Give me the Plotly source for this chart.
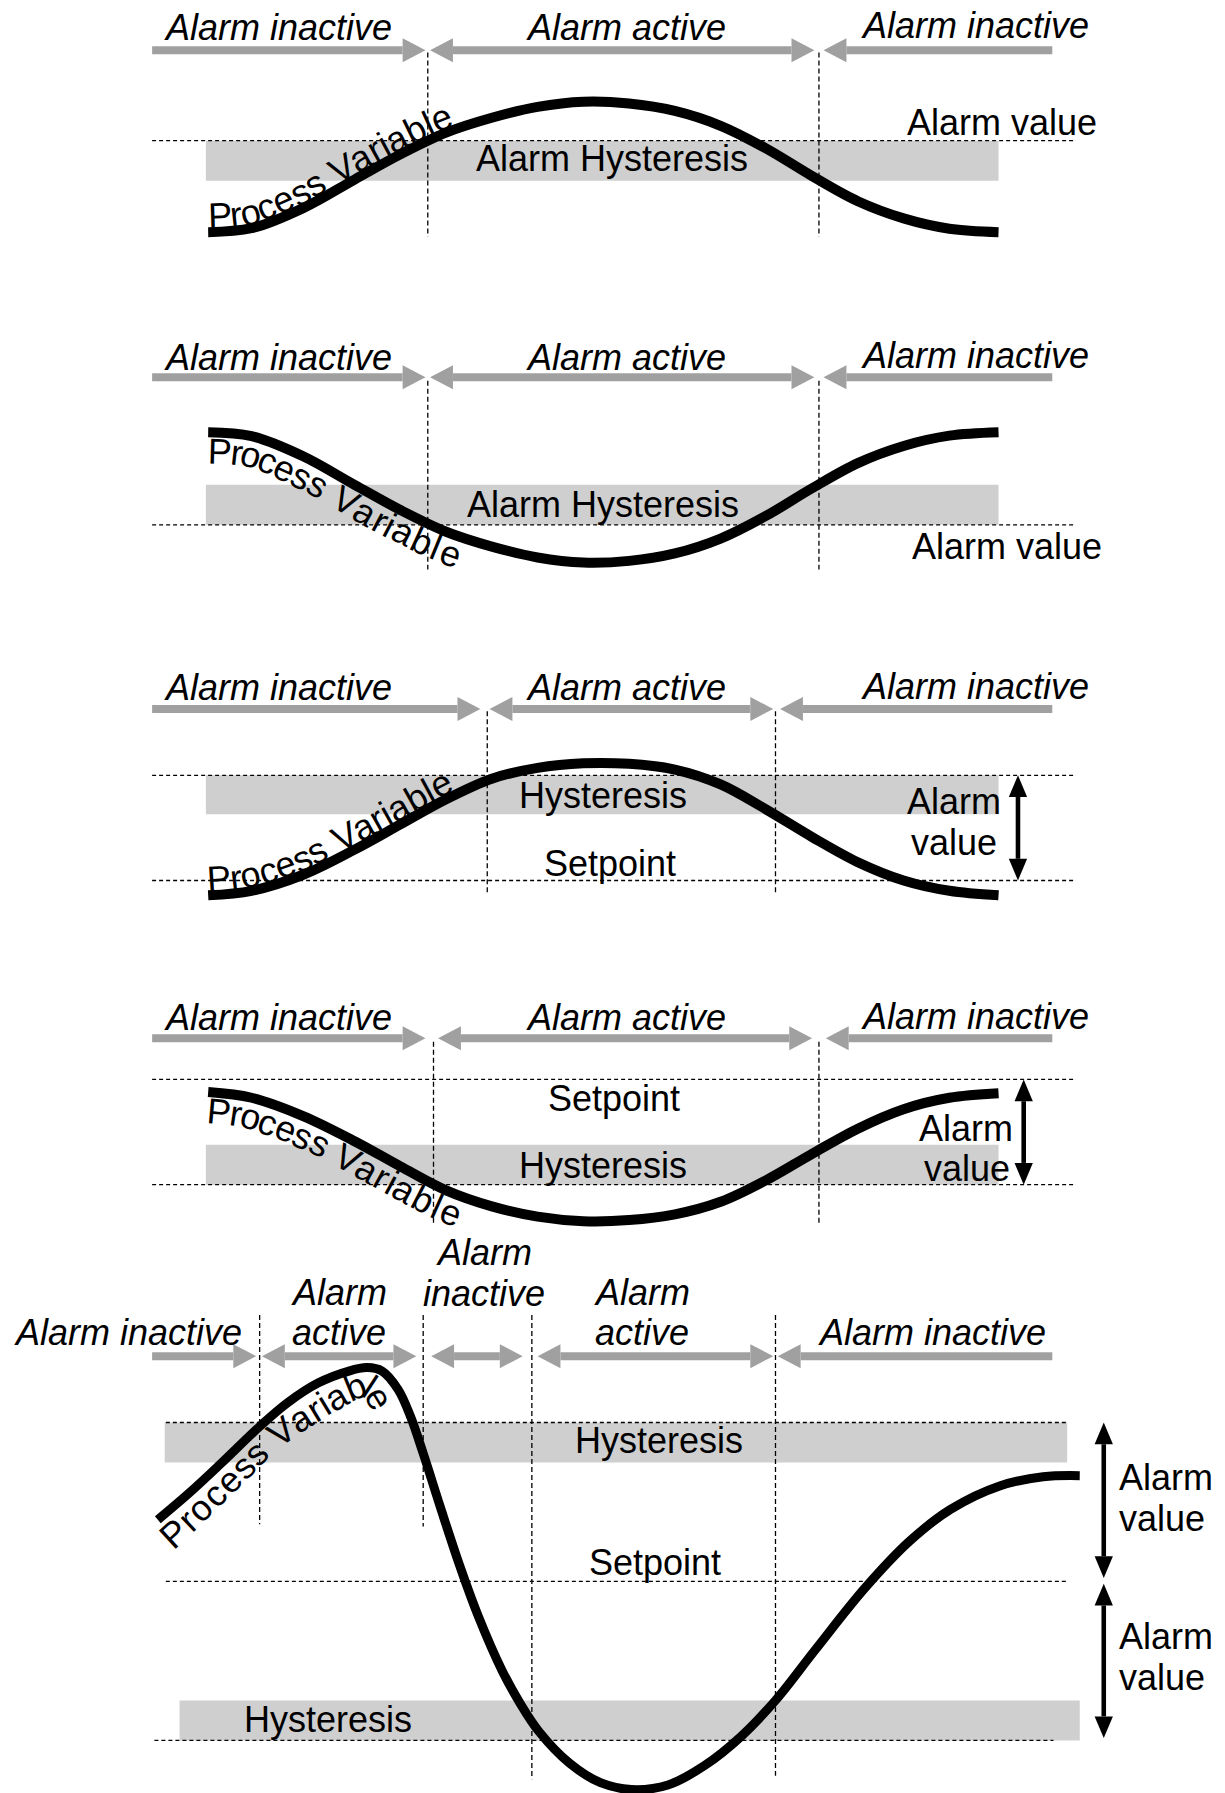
import math
import numpy as np
import plotly.graph_objects as go

# ---------------------------------------------------------------------------
# Diagram units: x = time (left -> right), y = process value drawn downward
# ---------------------------------------------------------------------------

# Process-variable curves
pv1_x = [182, 220, 265, 310, 350, 390, 430, 470, 510, 550, 590, 630, 670, 710, 750, 790, 830, 873]
pv1_y = [203, 199.6, 182, 157, 135, 116, 103, 93.5, 89, 90.5, 97, 110, 130, 154, 176, 191, 200, 203]

pv2_x = [182, 220, 265, 310, 350, 390, 430, 470, 510, 550, 590, 630, 670, 710, 750, 790, 830, 873]
pv2_y = [378, 381.4, 399, 424, 446, 465, 478, 487.5, 492, 490.5, 484, 471, 451, 427, 405, 390, 381, 378]

pv3_x = [182, 220, 265, 310, 350, 390, 430, 470, 510, 550, 590, 630, 670, 710, 750, 790, 830, 873]
pv3_y = [783, 779, 765, 743, 721, 699, 681, 671.5, 667.5, 668, 673, 686, 708, 732, 754, 770, 779, 783]

pv4_x = [182, 220, 265, 310, 350, 390, 430, 470, 510, 550, 590, 630, 670, 710, 750, 790, 830, 873]
pv4_y = [955, 960, 976, 998, 1020, 1041, 1055, 1064, 1068, 1067, 1062, 1051, 1032, 1009, 987, 970, 960, 956]

pv5_x = [138, 165, 192, 227, 251, 278, 305, 321, 334, 348, 359, 370, 385, 401.5, 417.6, 439,
         455, 471, 498, 525, 552, 584, 616, 648.5, 678, 713, 756, 795, 831, 874, 912, 944]
pv5_y = [1329, 1306, 1281, 1247.5, 1227, 1209.5, 1199, 1196, 1199, 1215, 1239, 1271, 1318,
         1368, 1412, 1461, 1490, 1514, 1542, 1559, 1565, 1561, 1544, 1518, 1487, 1442.5,
         1389, 1348, 1320, 1299.5, 1291.5, 1290.5]

# Baseline guide for the wrapped "Process Variable" label of the last panel
pv5_label_x = [140, 165, 192, 227, 251, 278, 300, 314, 324, 333, 340]
pv5_label_y = [1352, 1329, 1303, 1268, 1248, 1231, 1218, 1211, 1213, 1226, 1240]

# Levels: (y, x_start, x_end) for the dashed reference lines
ref_lines = [
    (123, 133, 940),                       # panel 1 alarm value
    (459, 133, 940),                       # panel 2 alarm value
    (678, 133, 940), (770, 133, 940),      # panel 3 alarm limit / setpoint
    (944, 133, 940), (1036, 133, 940),     # panel 4 setpoint / alarm limit
    (1244, 145, 933), (1383, 145, 934), (1522, 135, 921),   # panel 5
]

# Hysteresis bands: (x0, x1, y_top, y_bottom)
hyst_bands = [
    (180, 873, 123, 158),
    (180, 873, 424, 459),
    (180, 873, 678, 712),
    (180, 873, 1001, 1036),
    (144, 933, 1244, 1279),
    (157, 944, 1487, 1522),
]

# State-change instants: (x, y_from, y_to)
transitions = [
    (374, 46, 207), (716, 46, 207),
    (374, 333, 498), (716, 333, 498),
    (426, 622, 782), (678, 622, 782),
    (379, 911, 1072), (716, 911, 1072),
    (227, 1150, 1333), (370, 1150, 1335), (465, 1150, 1556), (678, 1150, 1553),
]

# Alarm-state arrows: row y, and (x_from, x_to, head_left, head_right)
state_rows = [44, 330, 620, 908, 1186]
state_spans = [
    [(133, 372, 0, 1), (376, 712, 1, 1), (720, 920, 1, 0)],
    [(133, 372, 0, 1), (376, 712, 1, 1), (720, 920, 1, 0)],
    [(133, 420, 0, 1), (428, 676, 1, 1), (682, 920, 1, 0)],
    [(133, 372, 0, 1), (383, 710, 1, 1), (722, 920, 1, 0)],
    [(133, 224, 0, 1), (229, 364, 1, 1), (377, 457, 1, 1), (470, 676, 1, 1), (680, 920, 1, 0)],
]

# Alarm-value span arrows (black, double headed): (x, y_from, y_to)
value_spans = [(890, 678, 770), (895, 944, 1036), (965, 1244, 1380), (965, 1385, 1520)]

# Text labels
label_text = [
    "Alarm inactive", "Alarm active", "Alarm inactive", "Alarm value", "Alarm Hysteresis",
    "Alarm inactive", "Alarm active", "Alarm inactive", "Alarm Hysteresis", "Alarm value",
    "Alarm inactive", "Alarm active", "Alarm inactive", "Hysteresis", "Setpoint", "Alarm", "value",
    "Alarm inactive", "Alarm active", "Alarm inactive", "Setpoint", "Hysteresis", "Alarm", "value",
    "Alarm inactive", "Alarm", "active", "Alarm", "inactive", "Alarm", "active", "Alarm inactive",
    "Hysteresis", "Setpoint", "Hysteresis", "Alarm", "value", "Alarm", "value",
]
label_x = [
    243, 547, 852, 876, 535,
    243, 547, 852, 527, 880,
    243, 547, 852, 527, 533, 877, 873,
    243, 547, 852, 537, 527, 887, 885,
    112, 296, 296, 423, 423, 561, 561, 815,
    576, 573, 287, 977, 977, 977, 977,
]
label_y = [
    24, 24, 22, 107, 139,
    313, 313, 311, 441, 478,
    601, 601, 600, 696, 755, 701, 737,
    890, 890, 889, 961, 1019, 987, 1022,
    1165, 1130, 1165, 1095, 1131, 1130, 1165, 1165,
    1260, 1366, 1504, 1292, 1328, 1431, 1467,
]
label_italic = [
    1, 1, 1, 0, 0,
    1, 1, 1, 0, 0,
    1, 1, 1, 0, 0, 0, 0,
    1, 1, 1, 0, 0, 0, 0,
    1, 1, 1, 1, 1, 1, 1, 1,
    0, 0, 0, 0, 0, 0, 0,
]
label_anchor = [
    "center", "center", "center", "center", "center",
    "center", "center", "center", "center", "center",
    "center", "center", "center", "center", "center", "right", "right",
    "center", "center", "center", "center", "center", "right", "right",
    "center", "center", "center", "center", "center", "center", "center", "center",
    "center", "center", "center", "left", "left", "left", "left",
]

curve_label = "Process Variable"
# label guide path per panel, side of the path (+1 above, -1 below, 0 on it),
# start offset along the path and letter spread
curve_label_paths = [(pv1_x, pv1_y), (pv2_x, pv2_y), (pv3_x, pv3_y), (pv4_x, pv4_y),
                     (pv5_label_x, pv5_label_y)]
curve_label_side = [1, -1, 1, -1, 0]
curve_label_start = [0, 0, 0, 0, 5]
curve_label_spread = [1.0, 1.04, 1.0, 1.04, 1.06]

# ---------------------------------------------------------------------------
W, H = 1225, 1793
XR, YR = 1071, 1568
SCALE = W / XR
FONT = "Liberation Sans, Arial, sans-serif"
FS = 36
GREY = "#a0a0a0"
BAND = "#cfcfcf"
CURVE_W = [10, 10, 10, 10, 9]

# Arial advance widths (1/1000 em) for the curve label
CW = {"P": 667, "r": 333, "o": 556, "c": 500, "e": 556, "s": 500, " ": 278,
      "V": 667, "a": 556, "i": 222, "b": 556, "l": 222}

fig = go.Figure()
shapes = []

for x0, x1, y0, y1 in hyst_bands:
    shapes.append(dict(type="rect", xref="x", yref="y", x0=x0, x1=x1, y0=y0, y1=y1,
                       fillcolor=BAND, line=dict(width=0), layer="below"))
for y, x0, x1 in ref_lines:
    shapes.append(dict(type="line", xref="x", yref="y", x0=x0, x1=x1, y0=y, y1=y,
                       line=dict(color="black", width=1.3, dash="4px,3px"), layer="below"))
for x, y0, y1 in transitions:
    shapes.append(dict(type="line", xref="x", yref="y", x0=x, x1=x, y0=y0, y1=y1,
                       line=dict(color="black", width=1.3, dash="5px,3px"), layer="below"))


def h_arrow(y, x0, x1, left, right, color=GREY, shaft=7, hw=21, hl=20):
    a = x0 + (hl if left else 0)
    b = x1 - (hl if right else 0)
    shapes.append(dict(type="rect", xref="x", yref="y", x0=a, x1=b, y0=y - shaft / 2,
                       y1=y + shaft / 2, fillcolor=color, line=dict(width=0)))
    if right:
        shapes.append(dict(type="path", xref="x", yref="y",
                           path=f"M {x1},{y} L {b},{y - hw / 2} L {b},{y + hw / 2} Z",
                           fillcolor=color, line=dict(width=0)))
    if left:
        shapes.append(dict(type="path", xref="x", yref="y",
                           path=f"M {x0},{y} L {a},{y - hw / 2} L {a},{y + hw / 2} Z",
                           fillcolor=color, line=dict(width=0)))


def v_arrow(x, y0, y1, color="black", shaft=4, hw=16, hl=19):
    shapes.append(dict(type="rect", xref="x", yref="y", x0=x - shaft / 2, x1=x + shaft / 2,
                       y0=y0 + hl, y1=y1 - hl, fillcolor=color, line=dict(width=0)))
    shapes.append(dict(type="path", xref="x", yref="y",
                       path=f"M {x},{y0} L {x - hw / 2},{y0 + hl} L {x + hw / 2},{y0 + hl} Z",
                       fillcolor=color, line=dict(width=0)))
    shapes.append(dict(type="path", xref="x", yref="y",
                       path=f"M {x},{y1} L {x - hw / 2},{y1 - hl} L {x + hw / 2},{y1 - hl} Z",
                       fillcolor=color, line=dict(width=0)))


for y, spans in zip(state_rows, state_spans):
    for x0, x1, l, r in spans:
        h_arrow(y, x0, x1, l, r)
for x, y0, y1 in value_spans:
    v_arrow(x, y0, y1)

curves = [(pv1_x, pv1_y), (pv2_x, pv2_y), (pv3_x, pv3_y), (pv4_x, pv4_y), (pv5_x, pv5_y)]
for i, (cx, cy) in enumerate(curves):
    fig.add_trace(go.Scatter(x=cx, y=cy, mode="lines", hoverinfo="skip", showlegend=False,
                             line=dict(color="black", width=CURVE_W[i],
                                       shape="spline", smoothing=1)))

annotations = []
for t, x, y, it, anc in zip(label_text, label_x, label_y, label_italic, label_anchor):
    annotations.append(dict(x=x, y=y, xref="x", yref="y", text=t, showarrow=False,
                            xanchor=anc, yanchor="middle",
                            font=dict(family=FONT, size=FS, color="black",
                                      style="italic" if it else "normal")))


def dense(xs, ys, n=24):
    p = np.array(list(zip(xs, ys)), dtype=float)
    P = np.vstack([2 * p[0] - p[1], p, 2 * p[-1] - p[-2]])
    out = []
    for i in range(1, len(P) - 2):
        p0, p1, p2, p3 = P[i - 1], P[i], P[i + 1], P[i + 2]
        for t in np.linspace(0, 1, n, endpoint=False):
            out.append(0.5 * (2 * p1 + (-p0 + p2) * t + (2 * p0 - 5 * p1 + 4 * p2 - p3) * t * t
                              + (-p0 + 3 * p1 - 3 * p2 + p3) * t ** 3))
    out.append(p[-1])
    return np.array(out)


def curve_text(xs, ys, text, s0, side, spread):
    d = dense(xs, ys)
    seg = np.hypot(np.diff(d[:, 0]), np.diff(d[:, 1]))
    s = np.concatenate([[0], np.cumsum(seg)])
    off = 14 if side > 0 else 16
    pos = s0
    for ch in text:
        w = CW[ch] / 1000 * FS / SCALE * spread
        sc = pos + w / 2
        x = np.interp(sc, s, d[:, 0])
        y = np.interp(sc, s, d[:, 1])
        xa, ya = np.interp(sc - 4, s, d[:, 0]), np.interp(sc - 4, s, d[:, 1])
        xb, yb = np.interp(sc + 4, s, d[:, 0]), np.interp(sc + 4, s, d[:, 1])
        dx, dy = xb - xa, yb - ya
        nrm = math.hypot(dx, dy) or 1.0
        ang = math.degrees(math.atan2(dy, dx))
        ux, uy = dy / nrm, -dx / nrm
        px, py = x + side * off * ux, y + side * off * uy
        if ch != " ":
            annotations.append(dict(x=float(px), y=float(py), xref="x", yref="y", text=ch,
                                    showarrow=False, xanchor="center", yanchor="middle",
                                    textangle=ang, borderpad=0,
                                    font=dict(family=FONT, size=FS, color="black")))
        pos += w


for (cx, cy), side, s0, sp in zip(curve_label_paths, curve_label_side,
                                  curve_label_start, curve_label_spread):
    curve_text(cx, cy, curve_label, s0, side, sp)

fig.update_layout(
    width=W, height=H, margin=dict(l=0, r=0, t=0, b=0),
    paper_bgcolor="white", plot_bgcolor="white",
    xaxis=dict(range=[0, XR], visible=False, fixedrange=True),
    yaxis=dict(range=[YR, 0], visible=False, fixedrange=True),
    shapes=shapes, annotations=annotations, showlegend=False,
)
fig.write_html("out.html", config={"displayModeBar": False},
               post_script="document.body.style.margin='0';document.body.style.overflow='hidden';")
